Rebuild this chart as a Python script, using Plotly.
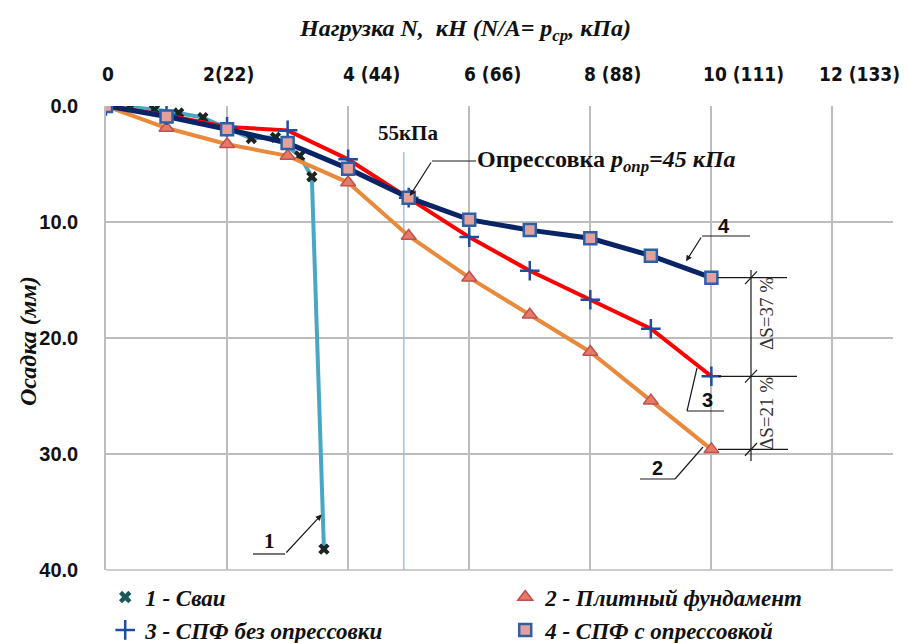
import plotly.graph_objects as go

# Load steps N (kN) and matching mean pressures
load_ticks = [0, 2, 4, 6, 8, 10, 12]
load_labels = ["0", "2(22)", "4 (44)", "6 (66)", "8 (88)", "10 (111)", "12 (133)"]
settle_ticks = [0, 10, 20, 30, 40]

# 1 - piles
pile_n = [0, 0.4, 0.8, 1.2, 1.6, 2.0, 2.4, 2.8, 3.2, 3.4, 3.6]
pile_s = [0, 0.1, 0.3, 0.6, 1.0, 1.9, 2.8, 2.7, 4.3, 6.1, 38.2]

# 2 - raft foundation, 3 - piled raft without pre-pressing, 4 - piled raft with pre-pressing
step_n = [0, 1, 2, 3, 4, 5, 6, 7, 8, 9, 10]
raft_s = [0, 1.9, 3.3, 4.3, 6.6, 11.2, 14.8, 18.0, 21.2, 25.4, 29.6]
spf_s = [0, 0.8, 1.8, 2.1, 4.6, 7.9, 11.3, 14.2, 16.7, 19.2, 23.3]
spf_press_s = [0, 0.9, 2.0, 3.2, 5.4, 7.9, 9.8, 10.7, 11.4, 12.9, 14.8]

press_n = 4.92  # pre-pressing load level (55 kPa)
diff_labels = ["ΔS=37 %", "ΔS=21 %"]

legend_names = ["<i>1 - Сваи</i>", "<i>2 - Плитный фундамент</i>",
                "<i>3 - СПФ без опрессовки</i>", "<i>4 - СПФ с опрессовкой</i>"]

X_RANGE = [0, 13]
Y_RANGE = [40, 0]
L, R, T, B = 106, 16, 106, 73
W, H = 909, 643


def px_x(p):
    return X_RANGE[0] + (p - L) / (W - L - R) * (X_RANGE[1] - X_RANGE[0])


def px_y(p):
    return Y_RANGE[1] + (p - T) / (H - T - B) * (Y_RANGE[0] - Y_RANGE[1])


serif = "Liberation Serif"
sans = "Liberation Sans"

fig = go.Figure()

pile_style = dict(line=dict(color="#4aa7c4", width=4),
                  marker=dict(symbol="x", size=10, color="#1c2424",
                              line=dict(width=0)))
raft_style = dict(line=dict(color="#e8893c", width=4),
                  marker=dict(symbol="triangle-up", size=13, color="#e47a68",
                              line=dict(color="#c0504d", width=1.5)))
spf_style = dict(line=dict(color="#ff0000", width=4),
                 marker=dict(symbol="cross-thin", size=14, color="#1f4ea0",
                             line=dict(color="#1f4ea0", width=2.5)))
press_style = dict(line=dict(color="#0b2466", width=5),
                   marker=dict(symbol="square", size=12, color="#e3a19b",
                               line=dict(color="#2f5fa7", width=2.5)))

# pre-pressing level
fig.add_trace(go.Scatter(x=[press_n, press_n], y=[px_y(152), 40], mode="lines",
                         line=dict(color="#8db3e2", width=1.2),
                         showlegend=False, hoverinfo="skip"))

series = [
    (pile_n, pile_s, pile_style),
    (step_n, raft_s, raft_style),
    (step_n, spf_s, spf_style),
    (step_n, spf_press_s, press_style),
]
for (xs, ys, st), name in zip(series, legend_names):
    fig.add_trace(go.Scatter(x=xs, y=ys, mode="lines+markers", name=name,
                             line=st["line"], marker=st["marker"],
                             showlegend=False))

# legend entries show the marker only
for (xs, ys, st), name in zip(series, legend_names):
    mk = dict(st["marker"])
    if st is pile_style:
        mk = dict(symbol="x", size=11, color="#1c5a5a", line=dict(width=0))
    fig.add_trace(go.Scatter(x=[None], y=[None], mode="markers", name=name,
                             marker=mk, showlegend=True))

# bottom frame line of the plot area
shapes = [dict(type="line", xref="paper", yref="paper", x0=0, x1=1, y0=0, y1=0,
               line=dict(color="#bdbdbd", width=1.5), layer="below")]
anns = []


def seg(x0, y0, x1, y1, color="#1a1a1a", width=1.2):
    shapes.append(dict(type="line", xref="x", yref="y", x0=x0, y0=y0, x1=x1, y1=y1,
                       line=dict(color=color, width=width), layer="above"))


def arrow(xh, yh, xt, yt, head=2):
    anns.append(dict(x=xh, y=yh, ax=xt, ay=yt, xref="x", yref="y", axref="x", ayref="y",
                     text="", showarrow=True, arrowhead=head, arrowsize=1,
                     arrowwidth=1.2, arrowcolor="#1a1a1a", standoff=2))


def label(xp, yp, text, family=sans, size=18, **kw):
    anns.append(dict(x=px_x(xp), y=px_y(yp), xref="x", yref="y", text=text,
                     showarrow=False, font=dict(family=family, size=size, color="#111",
                                                weight="bold"), **kw))


# load tick labels along the top
tick_shift = [-6, -26, -7, -7, -8, -10, -15]
for v, t, s in zip(load_ticks, load_labels, tick_shift):
    anns.append(dict(x=v, y=1, xref="x", yref="paper", yanchor="bottom", xanchor="left",
                     yshift=19, xshift=s, text=t, showarrow=False,
                     font=dict(family="DejaVu Sans Condensed, Liberation Sans",
                               size=19, color="#111", weight="bold")))

# pre-pressing callouts
label(408, 133, "55кПа", family=serif, size=21)
label(475, 161, "Опрессовка <i>p<sub>опр</sub>=45 кПа</i>", family=serif, size=24,
      xanchor="left")
seg(px_x(476), px_y(161), px_x(432), px_y(161))
arrow(5.0, 7.9, px_x(432), px_y(161))

# curve numbers with leaders
seg(px_x(702), px_y(236), px_x(750), px_y(236))
arrow(px_x(685), px_y(263), px_x(702), px_y(236))
label(724, 226, "4", size=20)

seg(px_x(697), px_y(368), px_x(687), px_y(411))
seg(px_x(687), px_y(411), px_x(724), px_y(411))
label(707, 400, "3", size=20)

seg(px_x(703), px_y(447), px_x(675), px_y(479))
seg(px_x(675), px_y(479), px_x(640), px_y(479))
label(657, 468, "2", size=20)

arrow(px_x(323), px_y(513), px_x(285), px_y(554))
seg(px_x(285), px_y(554), px_x(253), px_y(554))
label(269, 541, "1", family=serif, size=21)

# settlement difference dimensions
dim_x = px_x(751)
seg(dim_x, px_y(270), dim_x, px_y(461))
ends = [(spf_press_s[-1], 787), (spf_s[-1], 797), (raft_s[-1], 788)]
for yv, xe in ends:
    seg(px_x(718), yv, px_x(xe), yv)
    seg(px_x(745), yv + 0.55, px_x(757), yv - 0.55)

for yp, txt in zip([314, 414], diff_labels):
    anns.append(dict(x=px_x(766), y=px_y(yp), xref="x", yref="y", text=txt,
                     textangle=-90, showarrow=False,
                     font=dict(family=serif, size=19, color="#333")))

# axis titles
anns.append(dict(x=0.5, y=1, xref="paper", yref="paper", yanchor="bottom", yshift=59,
                 xshift=-35,
                 text="<i>Нагрузка N,  кН (N/A= p<sub>ср</sub>, кПа)</i>",
                 showarrow=False,
                 font=dict(family=serif, size=24, color="#111", weight="bold")))
anns.append(dict(x=0, y=0.5, xref="paper", yref="paper", xanchor="center", xshift=-78,
                 yshift=-3,
                 text="<i>Осадка (мм)</i>", textangle=-90, showarrow=False,
                 font=dict(family=serif, size=24, color="#111", weight="bold")))

fig.update_layout(
    width=W, height=H,
    margin=dict(l=L, r=R, t=T, b=B, autoexpand=False),
    paper_bgcolor="white", plot_bgcolor="white",
    shapes=shapes, annotations=anns,
    showlegend=True,
    legend=dict(orientation="h", x=-0.001, xanchor="left", y=-0.012, yanchor="top",
                entrywidth=355, entrywidthmode="pixels", traceorder="normal",
                font=dict(family=serif, size=23, color="#111", weight="bold"),
                bgcolor="rgba(0,0,0,0)", itemwidth=30),
    xaxis=dict(range=X_RANGE, side="top", tickvals=load_ticks, showticklabels=False,
               showgrid=True, gridcolor="#bdbdbd", gridwidth=1.5, zeroline=False,
               showline=False, ticks=""),
    yaxis=dict(range=Y_RANGE, tickvals=settle_ticks, tickformat=".1f",
               showgrid=True, gridcolor="#bdbdbd", gridwidth=1.5, zeroline=False,
               showline=True, linecolor="#bdbdbd", linewidth=1.5, ticks="",
               ticklabelstandoff=22,
               tickfont=dict(family=sans, size=20, color="#111", weight="bold")),
)

fig.write_html("out.html")
